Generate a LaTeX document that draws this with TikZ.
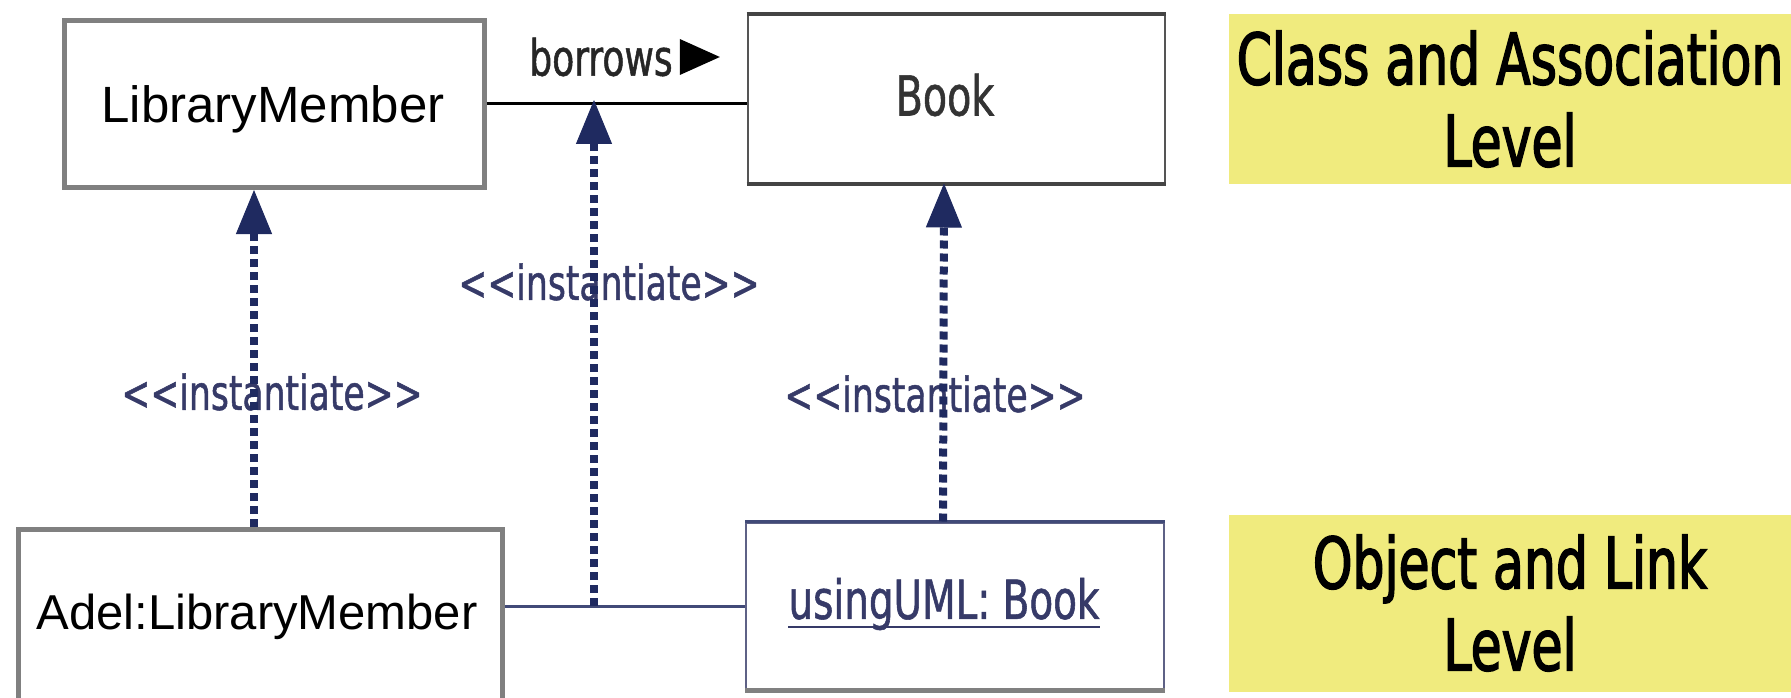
\documentclass[tikz,border=0pt]{standalone}
\usepackage{fontspec}
\usetikzlibrary{arrows.meta}
\newfontfamily\arialfont{Liberation Sans}
\newfontfamily\umlfont[FakeStretch=0.72,FakeBold=1]{DejaVu Sans}
\newfontfamily\notefont[FakeStretch=0.71,FakeBold=2]{DejaVu Sans}
\definecolor{navy}{HTML}{1F2A60}
\definecolor{inktxt}{HTML}{363A68}
\definecolor{boxgray}{HTML}{808080}
\definecolor{edgegray}{HTML}{555555}
\definecolor{notey}{HTML}{F0EB7E}
\begin{document}
\begin{tikzpicture}[x=1pt,y=-1pt,
  classbox/.style={draw=boxgray, line width=5pt, fill=white, inner sep=0pt,
    font=\arialfont\fontsize{50}{60}\selectfont},
  umlbox/.style={draw=edgegray, line width=2pt, fill=white, inner sep=0pt},
  note/.style={fill=notey, inner sep=0pt, align=center,
    minimum width=563pt, font=\notefont\fontsize{71}{82}\selectfont},
  stereo/.style={text=inktxt, inner sep=0pt, font=\umlfont\fontsize{48}{56}\selectfont},
  inst/.style={draw=navy, line width=8pt, dash pattern=on 8pt off 5pt,
    -{Triangle[length=44pt,width=36pt,line width=1pt]}},
  assoc/.style={draw=black, line width=3pt},
  link/.style={draw=navy!85!white, line width=3pt}]
\useasboundingbox (0,0) rectangle (1791,698);

% class level
\node[classbox, minimum width=420pt, minimum height=167pt] (lm) at (274,104) {};
\node[font=\arialfont\fontsize{51}{60}\selectfont, inner sep=0pt] (lmtxt) at (273,109) {LibraryMember};
\node[umlbox, minimum width=417pt, minimum height=167pt] (book) at (956,99) {};
\node[text=black!80, inner sep=0pt, font=\umlfont\fontsize{55}{64}\selectfont] (booktxt) at (945,95) {Book};
\draw[edgegray!80!black, line width=4pt] (book.north west) -- (book.north east);
\draw[edgegray!80!black, line width=4pt] (book.south west) -- (book.south east);

% object level
\node[classbox, minimum width=484pt, minimum height=195pt, anchor=north west] (adel) at (16,527) {};
\node[font=\arialfont\fontsize{49}{60}\selectfont, inner sep=0pt] (adeltxt) at (257,617) {Adel:LibraryMember};
\node[umlbox, draw=inktxt!80, minimum width=418pt, minimum height=167pt] (ub) at (955,606) {};
\draw[navy!85!white, line width=3pt] (ub.north west) -- (ub.north east);
\draw[boxgray, line width=5pt] (ub.south west) -- (ub.south east);
\node[text=inktxt, inner sep=0pt, font=\umlfont\fontsize{54}{64}\selectfont] (ubtxt) at (944,604) {usingUML: Book};
\draw[inktxt, line width=2.5pt] ([yshift=-8pt]ubtxt.base west) -- ([yshift=-8pt]ubtxt.base east);

% level notes
\node[note, minimum height=169pt] (clsnote) at (1510,99) {Class and Association\\Level};
\node[note, minimum height=177pt] (objnote) at (1510,603) {Object and Link\\Level};

% association and link
\draw[assoc] (lm.east) -- (book.west |- lm.east) coordinate (assocend);
\coordinate (assocmid) at (594,100);
\node[inner sep=0pt, text=black!85, font=\umlfont\fontsize{50}{58}\selectfont] (borrows) at (601,57) {borrows};
\fill[black] ([xshift=7pt,yshift=18pt]borrows.east) -- ++(40,18) -- ++(-40,18) -- cycle;
\draw[link] (adel.east |- ub.west) -- (ub.west);
\coordinate (linkmid) at (594,606);

% instantiation labels
\node[stereo] (s1) at (272,392) {<<instantiate>>};
\node[stereo] (s2) at (609,282) {<<instantiate>>};
\node[stereo] (s3) at (935,394) {<<instantiate>>};

% instantiation dependencies
\draw[inst] (adel.north -| 254,0) -- (254,190);
\draw[inst] (linkmid) -- (assocmid);
\draw[inst] ([xshift=-12pt]ub.north) -- ([xshift=-12pt]book.south);
\end{tikzpicture}
\end{document}
